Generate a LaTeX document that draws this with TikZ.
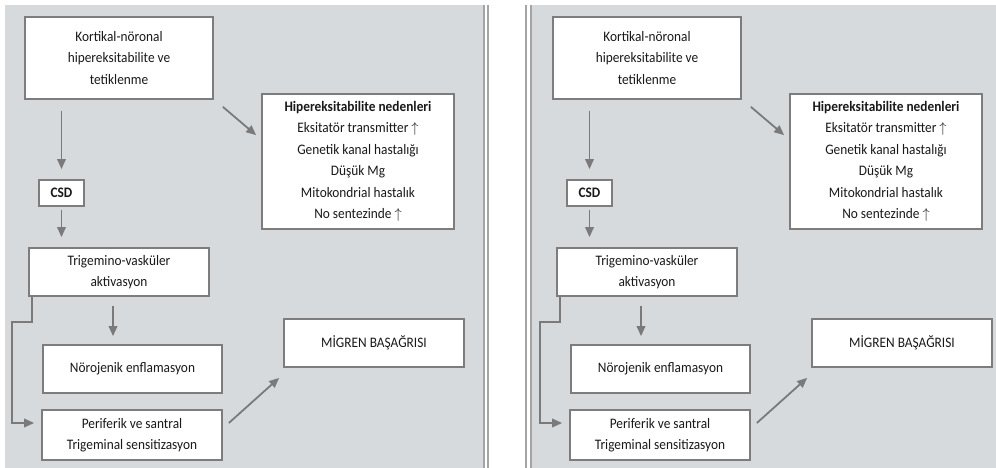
\documentclass[tikz,border=0pt]{standalone}
\usepackage{fontspec}
\setmainfont{Carlito}[FakeStretch=0.92]
\usetikzlibrary{arrows.meta,calc}

\definecolor{panelgrey}{RGB}{214,218,221}
\definecolor{edgegrey}{RGB}{125,125,125}
\definecolor{arrowgrey}{RGB}{122,122,122}
\definecolor{txtgrey}{RGB}{25,25,25}

\tikzset{
  box/.style={draw=edgegrey, fill=white, line width=1.7pt, align=center,
    text=txtgrey, inner sep=0pt, font=\fontsize{14.5}{21.5}\selectfont},
  arr/.style={draw=arrowgrey, line width=1.8pt, -{Triangle[length=10pt,width=8.5pt]}},
}

\begin{document}
\begin{tikzpicture}[x=1pt,y=-1pt]
\useasboundingbox (0,0) rectangle (996,468);

% the two panels
\fill[panelgrey] (5,5) rectangle (484,468);
\fill[panelgrey] (531,5) rectangle (996,468);
\draw[edgegrey!70, line width=1.2pt] (484,5) -- (484,468) (488,5) -- (488,468);
\draw[edgegrey!70, line width=1.2pt] (526,5) -- (526,468) (531,5) -- (531,468);

\foreach \p/\dx in {l/0,r/528}{
\begin{scope}[xshift=\dx pt]
\node[box, minimum width=188, minimum height=82] (kort\p) at (119,58)
  {Kortikal-nöronal\\hipereksitabilite ve\\tetiklenme};
\node[box, minimum width=192, minimum height=135] (hip\p) at (358,161.5)
  {\bfseries Hipereksitabilite nedenleri\\Eksitatör transmitter $\uparrow$\\Genetik kanal hastalığı\\Düşük Mg\\Mitokondrial hastalık\\No sentezinde $\uparrow$};
\node[box, minimum width=45, minimum height=26, font=\fontsize{14.5}{16}\bfseries] (csd\p) at (61.5,193) {CSD};
\node[box, minimum width=180, minimum height=48] (trig\p) at (119,272)
  {Trigemino-vasküler\\aktivasyon};
\node[box, minimum width=179, minimum height=48] (nor\p) at (132.5,369)
  {Nörojenik enflamasyon};
\node[box, minimum width=180, minimum height=50] (peri\p) at (132,435)
  {Periferik ve santral\\Trigeminal sensitizasyon};
\node[box, minimum width=180, minimum height=48] (mig\p) at (374,343)
  {MİGREN BAŞAĞRISI};

\draw[arr, shorten <=11pt, shorten >=10pt] (kort\p.south -| csd\p.north) -- (csd\p.north);
\draw[arr, shorten <=3pt, shorten >=10pt] (csd\p.south) -- (csd\p.south |- trig\p.north);
\draw[arr] ($(kort\p.south east)+(9,7)$) -- ($(hip\p.north west)+(-5,42)$);
\draw[arr, shorten <=9pt, shorten >=8pt] ([xshift=-6pt]trig\p.south) -- ([xshift=-6pt]trig\p.south |- nor\p.north);
\draw[arr, shorten >=7pt] ([xshift=4pt]trig\p.south west) -- ++(0,25)
  -| ($(peri\p.west)+(-29,-12)$) -- ($(peri\p.west)+(0,-12)$);
\draw[arr] ($(peri\p.east)+(6,-12)$) -- ($(mig\p.south west)+(-4,10)$);
\end{scope}
}
\end{tikzpicture}
\end{document}
